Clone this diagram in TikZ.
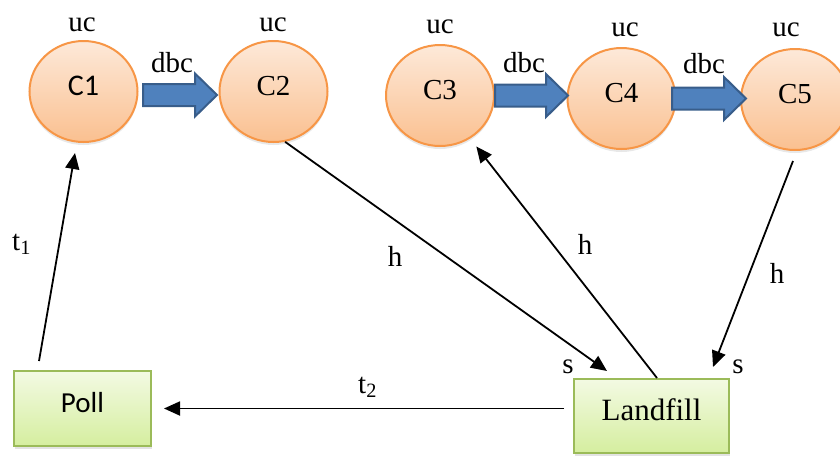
\documentclass[tikz,border=0pt]{standalone}
\usepackage{fontspec}
\setmainfont{Liberation Serif}
\newfontfamily\calibri{Carlito}
\usetikzlibrary{arrows.meta,shapes.geometric,shadows}
\definecolor{circtop}{HTML}{FDE9D9}
\definecolor{circbot}{HTML}{FAC090}
\definecolor{circedge}{HTML}{F79646}
\definecolor{boxtop}{HTML}{F3FAE3}
\definecolor{boxbot}{HTML}{D5EE9F}
\definecolor{boxedge}{HTML}{9BBB59}
\definecolor{arrfill}{HTML}{4F81BD}
\definecolor{arredge}{HTML}{385D8A}
\newcommand\myblockarrow[3]{%
  \draw[blockarr] (#1,#3-11) -- (#2-22,#3-11) -- (#2-22,#3-21.5) -- (#2,#3)
    -- (#2-22,#3+21.5) -- (#2-22,#3+11) -- (#1,#3+11) -- cycle;}
\begin{document}
\begin{tikzpicture}[x=1pt,y=-1pt,
  cnode/.style={ellipse, draw=circedge, line width=2pt, top color=circtop, bottom color=circbot,
    minimum width=108pt, minimum height=101pt, inner sep=0pt, text height=19pt, text depth=11pt,
    font=\fontsize{29}{32}\selectfont,
    drop shadow={opacity=0.18, shadow xshift=0pt, shadow yshift=-3pt}},
  bnode/.style={rectangle, draw=boxedge, line width=2pt, top color=boxtop, bottom color=boxbot,
    inner sep=0pt, text height=19pt, text depth=11pt,
    drop shadow={opacity=0.22, shadow xshift=1pt, shadow yshift=-3pt}},
  lbl/.style={anchor=base, inner sep=0pt, font=\fontsize{29}{32}\selectfont},
  blockarr/.style={draw=arredge, line width=2pt, fill=arrfill, line join=miter},
  conn/.style={line width=1.8pt, -{Triangle[length=16pt,width=14pt]}}
]
\useasboundingbox (0,0) rectangle (840,456);

% circles
\node[cnode] (C1) at (83.5,91.5) {\calibri\fontsize{30}{32}\selectfont C1};
\node[cnode] (C2) at (273.5,91.5) {C2};
\node[cnode] (C3) at (440,95.5) {C3};
\node[cnode] (C4) at (621.5,98.5) {C4};
\node[cnode] (C5) at (795,99.5) {C5};

% boxes
\node[bnode, minimum width=137pt, minimum height=75pt, font=\calibri\fontsize{29}{32}\selectfont] (Poll) at (82.5,408.5) {Poll};
\node[bnode, minimum width=155pt, minimum height=74pt, font=\fontsize{31}{34}\selectfont] (Landfill) at (651.5,416) {Landfill};

% block arrows
\myblockarrow{143}{217}{95}
\myblockarrow{495}{568}{95.5}
\myblockarrow{672}{746}{98.5}

% uc labels
\node[lbl] (u1) at (82,31) {uc};
\node[lbl] (u2) at (273,31) {uc};
\node[lbl] (u3) at (440,33) {uc};
\node[lbl] (u4) at (625,36) {uc};
\node[lbl] (u5) at (786,36) {uc};

% dbc labels
\node[lbl] (d1) at (172,72) {dbc};
\node[lbl] (d2) at (524,72) {dbc};
\node[lbl] (d3) at (704,73) {dbc};

% connectors
\draw[conn] ([xshift=26pt,yshift=9pt]Poll.north west) -- ([xshift=-8.5pt,yshift=-10pt]C1.south);
\draw[conn] (C2.-77) -- ([xshift=34pt,yshift=7pt]Landfill.north west);
\draw[conn, shorten >=10pt] ([xshift=84pt]Landfill.north west) -- (C3.-55);
\draw[conn] ([xshift=-2pt,yshift=-10pt]C5.south) -- ([xshift=-17pt,yshift=11pt]Landfill.north east);
\draw[conn, shorten <=9pt, shorten >=12pt] (Landfill.west |- Poll.east) -- (Poll.east);

% connector labels
\node[lbl, anchor=base west] (t1) at (12,250) {t\textsubscript{1}};
\node[lbl] (h1) at (395,266) {h};
\node[lbl] (h2) at (585,254) {h};
\node[lbl] (h3) at (777,283) {h};
\node[lbl] (s1) at (568,373) {s};
\node[lbl] (s2) at (738,373) {s};
\node[lbl, anchor=base west] (t2) at (358,393) {t\textsubscript{2}};
\end{tikzpicture}
\end{document}
